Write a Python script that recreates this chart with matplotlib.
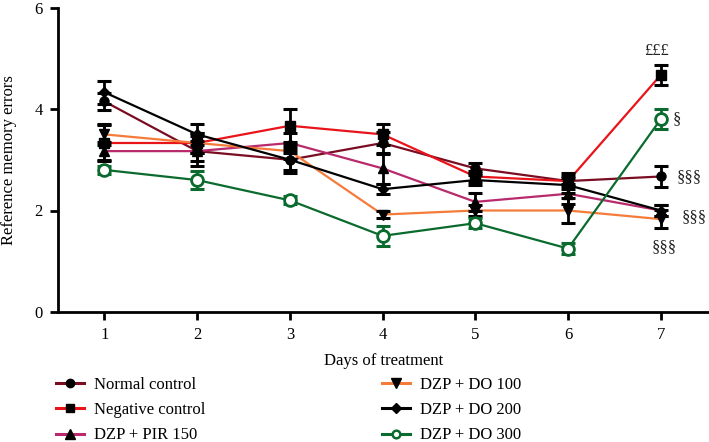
import matplotlib
matplotlib.use("Agg")
import matplotlib.pyplot as plt
from matplotlib.lines import Line2D

plt.rcParams['font.family'] = ['Liberation Serif', 'DejaVu Serif']

days = [1, 2, 3, 4, 5, 6, 7]
xticklabels = ["1", "2", "3", "4", "5", "6", "7"]
yticks = [0, 2, 4, 6]

normal = [4.15, 3.17, 3.0, 3.33, 2.83, 2.58, 2.67]
normal_err = [0.17, 0.2, 0.2, 0.21, 0.1, 0.1, 0.2]
negative = [3.33, 3.33, 3.67, 3.5, 2.67, 2.58, 4.67]
negative_err = [0.35, 0.2, 0.33, 0.21, 0.1, 0.15, 0.2]
pir150 = [3.17, 3.17, 3.33, 2.83, 2.17, 2.33, 2.0]
pir150_err = [0.18, 0.3, 0.2, 0.3, 0.17, 0.2, 0.1]
do100 = [3.5, 3.33, 3.17, 1.92, 2.0, 2.0, 1.83]
do100_err = [0.2, 0.2, 0.15, 0.07, 0.1, 0.25, 0.18]
do200 = [4.33, 3.5, 3.0, 2.42, 2.6, 2.5, 2.0]
do200_err = [0.23, 0.2, 0.26, 0.1, 0.1, 0.15, 0.1]
do300 = [2.8, 2.6, 2.2, 1.5, 1.75, 1.25, 3.8]
do300_err = [0.08, 0.18, 0.08, 0.2, 0.1, 0.1, 0.2]

labels = ["Normal control", "Negative control", "DZP + PIR 150",
          "DZP + DO 100", "DZP + DO 200", "DZP + DO 300"]

annot_text = ["£££", "§", "§§§", "§§§", "§§§"]
annot_x = [6.95, 7.13, 7.17, 7.23, 6.9]
annot_y = [5.15, 3.81, 2.65, 1.87, 1.28]
annot_ha = ["center", "left", "left", "left", "left"]

series = [normal, negative, pir150, do100, do200, do300]
errs = [normal_err, negative_err, pir150_err, do100_err, do200_err, do300_err]
colors = ["#7a0d22", "#e8141a", "#b82a6c", "#f47b3a", "#000000", "#0b6b2e"]
markers = ["o", "s", "^", "v", "D", "o"]
msizes = [6.5, 6.5, 7, 7, 5.5, 8.5]

fig = plt.figure(figsize=(7.09, 4.42), dpi=100)
ax = fig.add_axes([58/709, 130/442, (709-58)/709, (312-7.5)/442])

handles = []
for ys, es, c, m, ms, lab in zip(series, errs, colors, markers, msizes, labels):
    open_m = (lab == "DZP + DO 300")
    mfc = "white" if open_m else "black"
    mec = c if open_m else "black"
    ax.plot(days, ys, color=c, lw=1.6, zorder=2)
    ax.errorbar(days, ys, yerr=es, fmt="none", ecolor=c if open_m else "black",
                elinewidth=2.0, capsize=5, capthick=2.2, zorder=3)
    ax.plot(days, ys, linestyle="none", marker=m, ms=ms, mfc=mfc, mec=mec,
            mew=2.0 if open_m else 1.0, zorder=4)
    handles.append(Line2D([], [], color=c, lw=2.2, marker=m,
                          ms=(5.5 if open_m else ms - 0.5), mfc=mfc, mec=mec,
                          mew=1.8 if open_m else 1.0, label=lab))

for t, x, y, ha in zip(annot_text, annot_x, annot_y, annot_ha):
    ax.text(x, y, t, ha=ha, va="center", fontsize=12, color="#222222")

ax.set_xlim(0.5, 7.52)
ax.set_ylim(0, 6)
ax.set_xticks(days)
ax.set_xticklabels(xticklabels)
ax.set_yticks(yticks)
for s in ["top", "right"]:
    ax.spines[s].set_visible(False)
for s in ["left", "bottom"]:
    ax.spines[s].set_linewidth(2.0)
ax.tick_params(axis="both", direction="out", length=6, width=2.0,
               labelsize=12, pad=5)
ax.set_xlabel("Days of treatment", fontsize=12, labelpad=7)
fig.text(9/709, 1 - 160/442, "Reference memory errors", rotation=90,
         ha="center", va="center", fontsize=12)

leg_kw = dict(frameon=False, fontsize=12, handlelength=1.65, handletextpad=0.6,
              labelspacing=0.55, borderpad=0, borderaxespad=0, loc="upper left")
l1 = fig.legend(handles=handles[:3], bbox_to_anchor=(56/709, 1-377/442), **leg_kw)
l2 = fig.legend(handles=handles[3:], bbox_to_anchor=(382/709, 1-377/442), **leg_kw)

fig.savefig("out.png", dpi=100)
